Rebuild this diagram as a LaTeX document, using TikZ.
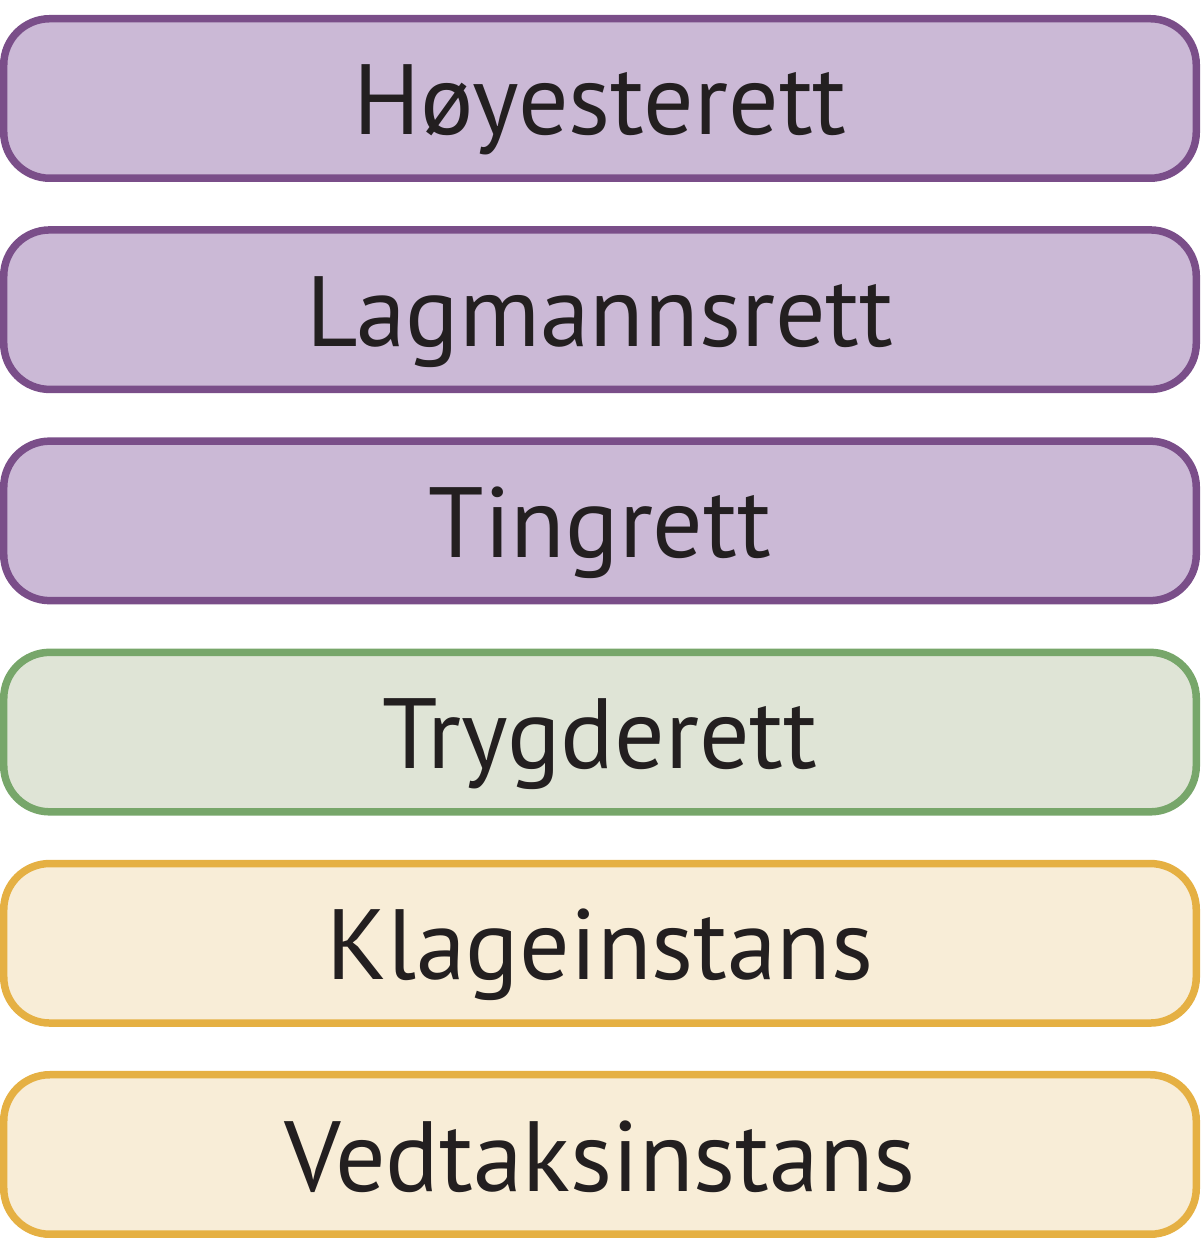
\documentclass[tikz,border=0pt]{standalone}
\usepackage{fontspec}
\setmainfont{PT Sans}
\usepackage{xcolor}
\usetikzlibrary{positioning}

\definecolor{courtline}{HTML}{7A4E89}
\definecolor{courtfill}{HTML}{CBB9D6}
\definecolor{trygdline}{HTML}{77A66A}
\definecolor{trygdfill}{HTML}{DFE4D6}
\definecolor{adminline}{HTML}{E5B043}
\definecolor{adminfill}{HTML}{F8EDD7}
\definecolor{textdark}{HTML}{231F20}

\begin{document}
\begin{tikzpicture}[
    node distance=0.442cm,
    level/.style={rounded corners=0.46cm, line width=0.075cm, minimum width=11.925cm,
        minimum height=1.595cm, inner sep=0pt, text height=0.73cm, text depth=0pt,
        text=textdark, font=\fontsize{28.4}{34}\selectfont},
    court/.style={level, draw=courtline, fill=courtfill},
    trygd/.style={level, draw=trygdline, fill=trygdfill},
    admin/.style={level, draw=adminline, fill=adminfill}
]
    \useasboundingbox (0,0) rectangle (12,12.54);

    % Courts
    \node[court] (hoyesterett) at (6,11.555) {Høyesterett};
    \node[court, below=of hoyesterett] (lagmannsrett) {Lagmannsrett};
    \node[court, below=of lagmannsrett] (tingrett) {Tingrett};

    % Social security court
    \node[trygd, below=of tingrett] (trygderett) {Trygderett};

    % Administrative levels
    \node[admin, below=of trygderett] (klageinstans) {Klageinstans};
    \node[admin, below=of klageinstans] (vedtaksinstans) {Vedtaksinstans};
\end{tikzpicture}
\end{document}
